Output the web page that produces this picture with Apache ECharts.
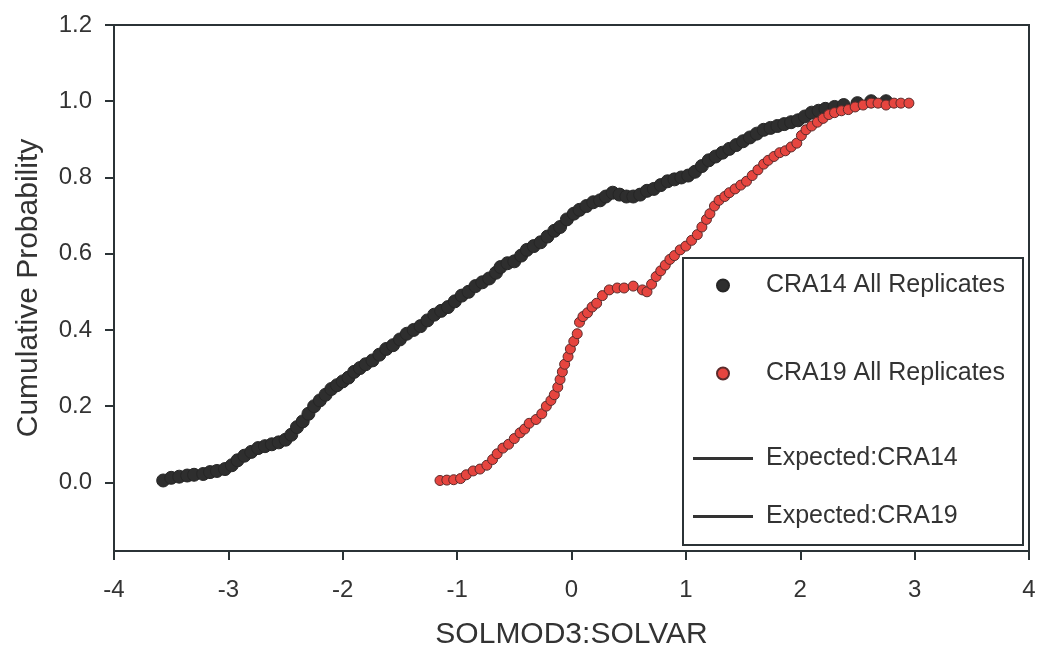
<!DOCTYPE html>
<html>
<head>
<meta charset="utf-8">
<script src="https://cdn.jsdelivr.net/npm/echarts@6/dist/echarts.min.js"></script>
<style>html,body{margin:0;padding:0;background:#fff}#c{width:1040px;height:646px}</style>
</head>
<body>
<div id="c"></div>
<script>
const xTicks = [-4, -3, -2, -1, 0, 1, 2, 3, 4];
const yTicks = [0, 0.2, 0.4, 0.6, 0.8, 1.0, 1.2];
const seriesNames = ['CRA14 All Replicates', 'CRA19 All Replicates', 'Expected:CRA14', 'Expected:CRA19'];

const cra14 = [
[-3.57,0.005],[-3.50,0.012],[-3.43,0.015],[-3.36,0.018],[-3.30,0.02],[-3.22,0.022],[-3.16,0.027],[-3.10,0.03],
[-3.03,0.035],[-2.97,0.045],[-2.92,0.058],[-2.86,0.07],[-2.80,0.08],[-2.74,0.09],[-2.68,0.095],[-2.62,0.10],
[-2.56,0.105],[-2.50,0.112],[-2.45,0.125],[-2.40,0.145],[-2.35,0.16],[-2.30,0.18],[-2.25,0.20],[-2.20,0.215],
[-2.15,0.23],[-2.10,0.245],[-2.05,0.255],[-2.00,0.265],[-1.95,0.275],[-1.90,0.29],[-1.85,0.30],[-1.80,0.31],
[-1.74,0.32],[-1.68,0.335],[-1.62,0.35],[-1.56,0.36],[-1.50,0.375],[-1.44,0.39],[-1.38,0.40],[-1.32,0.41],
[-1.26,0.425],[-1.20,0.44],[-1.14,0.45],[-1.08,0.46],[-1.02,0.475],[-0.96,0.49],[-0.90,0.50],[-0.84,0.515],
[-0.78,0.525],[-0.72,0.535],[-0.66,0.55],[-0.62,0.565],[-0.56,0.575],[-0.50,0.58],[-0.44,0.595],[-0.39,0.61],
[-0.33,0.62],[-0.27,0.63],[-0.21,0.645],[-0.15,0.66],[-0.10,0.67],[-0.04,0.69],[0.02,0.705],[0.07,0.715],
[0.13,0.725],[0.19,0.735],[0.25,0.74],[0.30,0.75],[0.36,0.76],[0.42,0.755],[0.48,0.75],[0.54,0.75],
[0.60,0.755],[0.66,0.765],[0.72,0.77],[0.78,0.78],[0.84,0.79],[0.90,0.795],[0.96,0.80],[1.02,0.805],
[1.08,0.815],[1.14,0.83],[1.20,0.845],[1.26,0.855],[1.32,0.865],[1.38,0.875],[1.44,0.885],[1.50,0.895],
[1.56,0.905],[1.62,0.915],[1.68,0.925],[1.74,0.93],[1.80,0.935],[1.86,0.94],[1.92,0.945],[1.98,0.95],
[2.04,0.96],[2.10,0.97],[2.16,0.975],[2.22,0.98],[2.30,0.985],[2.38,0.99],[2.50,0.995],[2.62,1.0],[2.75,1.0]
];

const cra19 = [
[-1.15,0.005],[-1.09,0.006],[-1.03,0.007],[-0.97,0.01],[-0.92,0.02],[-0.86,0.03],[-0.80,0.035],[-0.74,0.045],
[-0.69,0.06],[-0.65,0.075],[-0.60,0.09],[-0.55,0.10],[-0.50,0.115],[-0.45,0.13],[-0.41,0.14],[-0.37,0.155],
[-0.31,0.165],[-0.26,0.18],[-0.22,0.20],[-0.18,0.215],[-0.15,0.23],[-0.12,0.25],[-0.10,0.27],[-0.08,0.29],
[-0.06,0.31],[-0.03,0.33],[-0.01,0.35],[0.02,0.37],[0.05,0.39],[0.07,0.42],[0.10,0.435],[0.14,0.445],
[0.18,0.46],[0.22,0.47],[0.27,0.49],[0.33,0.505],[0.40,0.51],[0.46,0.51],[0.54,0.515],[0.62,0.505],
[0.66,0.50],[0.70,0.52],[0.74,0.54],[0.78,0.555],[0.82,0.57],[0.86,0.585],[0.90,0.595],[0.95,0.61],
[1.00,0.62],[1.05,0.635],[1.10,0.65],[1.14,0.67],[1.18,0.69],[1.21,0.705],[1.25,0.725],[1.29,0.74],
[1.34,0.75],[1.38,0.76],[1.43,0.77],[1.48,0.78],[1.53,0.79],[1.58,0.805],[1.63,0.82],[1.68,0.835],
[1.72,0.845],[1.77,0.855],[1.82,0.865],[1.87,0.87],[1.92,0.88],[1.97,0.89],[2.01,0.91],[2.05,0.925],
[2.10,0.935],[2.15,0.945],[2.20,0.955],[2.25,0.965],[2.30,0.97],[2.36,0.975],[2.42,0.978],[2.48,0.985],
[2.55,0.99],[2.62,0.995],[2.68,0.995],[2.75,0.99],[2.82,0.995],[2.88,0.995],[2.95,0.995]
];

const expected14 = [];
const expected19 = [];

const txt = '#333';
const axisCol = '#2b3336';
const font = 'Liberation Sans, Arial, sans-serif';
const chart = echarts.init(document.getElementById('c'), null, {renderer: 'canvas'});

function legendAt(name, left, top, w, h, pad, icon) {
  const l = {
    data: [name], left: left, top: top, orient: 'vertical', z: 20,
    itemWidth: w, itemHeight: h, selectedMode: false, padding: 0,
    textStyle: {fontFamily: font, fontSize: 25, color: txt, padding: [0, 0, 0, pad]}
  };
  if (icon) { l.icon = icon; l.itemStyle = {color: '#333', borderWidth: 0}; }
  return l;
}

chart.setOption({
  animation: false,
  backgroundColor: '#fff',
  grid: {left: 114, top: 25, right: 11, bottom: 95, outerBoundsMode: 'none', containLabel: false,
    show: true, borderColor: axisCol, borderWidth: 2, backgroundColor: 'transparent'},
  xAxis: {
    type: 'value', min: -4, max: 4, interval: 1,
    name: 'SOLMOD3:SOLVAR', nameLocation: 'middle', nameGap: 69,
    nameTextStyle: {fontFamily: font, fontSize: 30, color: txt},
    axisLine: {show: true, onZero: false, lineStyle: {color: axisCol, width: 2}},
    axisTick: {show: true, length: 9, lineStyle: {color: axisCol, width: 2}, customValues: xTicks},
    axisLabel: {fontFamily: font, fontSize: 24, color: txt, margin: 27, customValues: xTicks},
    splitLine: {show: false}
  },
  yAxis: {
    type: 'value', min: -0.18, max: 1.2,
    name: 'Cumulative Probability', nameLocation: 'middle', nameGap: 70,
    nameTextStyle: {fontFamily: font, fontSize: 30, color: txt},
    axisLine: {show: true, onZero: false, lineStyle: {color: axisCol, width: 2}},
    axisTick: {show: true, length: 9, lineStyle: {color: axisCol, width: 2}, customValues: yTicks},
    axisLabel: {fontFamily: font, fontSize: 24, color: txt, margin: 22, customValues: yTicks,
      formatter: v => v.toFixed(1)},
    splitLine: {show: false}
  },
  legend: [
    legendAt(seriesNames[0], 716, 273, 12, 12, 32),
    legendAt(seriesNames[1], 716, 361, 12, 12, 32),
    legendAt(seriesNames[2], 693, 446, 60, 3, 8, 'rect'),
    legendAt(seriesNames[3], 693, 504, 60, 3, 8, 'rect')
  ],
  graphic: [{
    type: 'rect', left: 682, top: 257, z: 4, silent: true,
    shape: {width: 340, height: 287},
    style: {fill: '#fff', stroke: axisCol, lineWidth: 2}
  }],
  series: [
    {name: seriesNames[0], type: 'scatter', data: cra14, symbol: 'circle', symbolSize: 13,
      itemStyle: {color: '#2e2e2e', borderColor: '#262626', borderWidth: 1, opacity: 1}, z: 2},
    {name: seriesNames[1], type: 'scatter', data: cra19, symbol: 'circle', symbolSize: 10,
      itemStyle: {color: '#e6453f', borderColor: '#5b2b2b', borderWidth: 1, opacity: 1}, z: 3},
    {name: seriesNames[2], type: 'line', data: expected14, showSymbol: false, symbol: 'none',
      lineStyle: {color: '#333', width: 3}, itemStyle: {color: '#333'}},
    {name: seriesNames[3], type: 'line', data: expected19, showSymbol: false, symbol: 'none',
      lineStyle: {color: '#333', width: 3}, itemStyle: {color: '#333'}}
  ]
});
</script>
</body>
</html>
